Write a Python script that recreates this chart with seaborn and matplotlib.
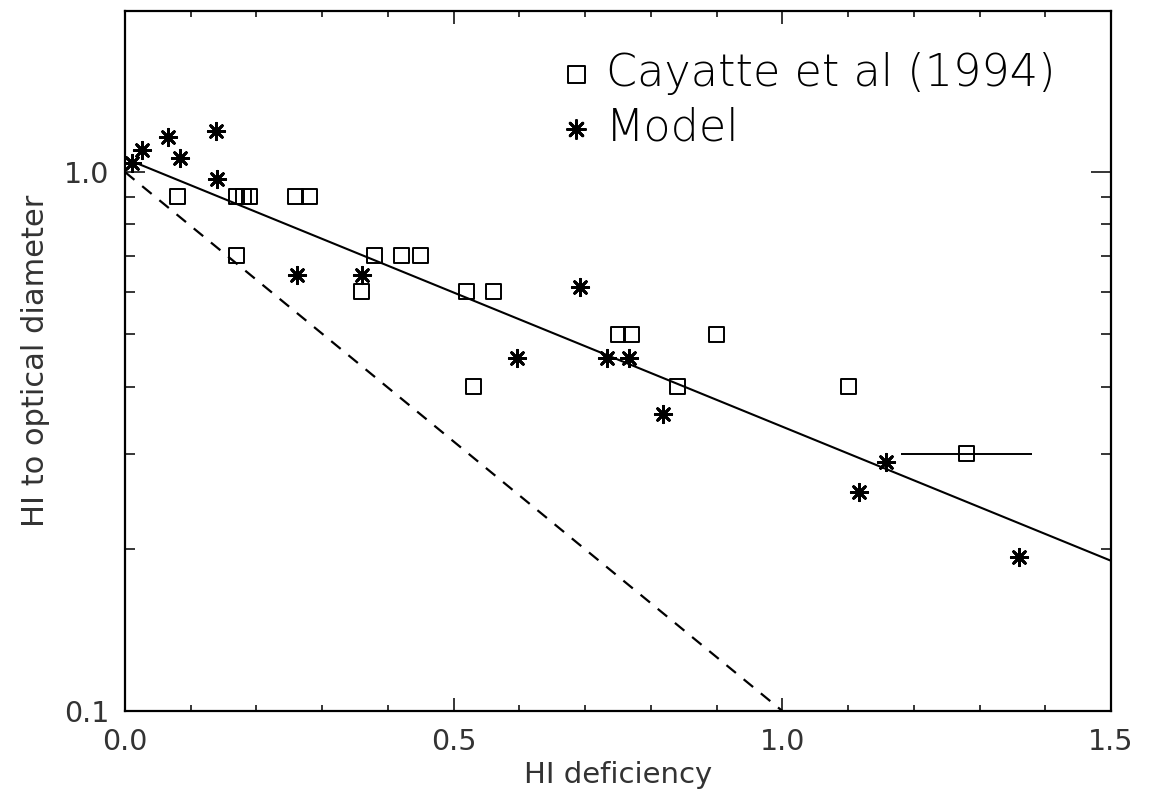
import numpy as np
import pandas as pd
import matplotlib
matplotlib.use("Agg")
import matplotlib.pyplot as plt
import matplotlib.ticker as mticker
import seaborn as sns

# ---- data ----
cay_x = [0.08, 0.17, 0.17, 0.18, 0.19, 0.26, 0.28, 0.36, 0.38, 0.42, 0.45,
         0.52, 0.56, 0.53, 0.75, 0.77, 0.84, 0.90, 1.10, 1.28]
cay_y = [0.90, 0.70, 0.90, 0.90, 0.90, 0.90, 0.90, 0.60, 0.70, 0.70, 0.70,
         0.60, 0.60, 0.40, 0.50, 0.50, 0.40, 0.50, 0.40, 0.30]
err_x = [1.28]
err_y = [0.30]
err_dx = [0.10]

model_x = [0.01, 0.026, 0.066, 0.084, 0.139, 0.14, 0.262, 0.36, 0.596, 0.692,
           0.733, 0.767, 0.818, 1.158, 1.117, 1.36]
model_y = [1.04, 1.10, 1.16, 1.06, 1.19, 0.97, 0.645, 0.645, 0.452, 0.612,
           0.452, 0.452, 0.355, 0.29, 0.255, 0.193]

fit_x = [0.0, 1.5]
fit_y = [1.06, 0.19]
dash_x = [0.0, 1.0]
dash_y = [1.0, 0.1]

x_major = [0.0, 0.5, 1.0, 1.5]
x_labels = ["0.0", "0.5", "1.0", "1.5"]
y_major = [0.1, 1.0]
y_labels = ["0.1", "1.0"]

legend_labels = ["Cayatte et al (1994)", "Model"]

# ---- style ----
sns.set_theme(style="ticks")
plt.rcParams["font.family"] = ["DejaVu Sans"]

fig = plt.figure(figsize=(11.52, 8.0), dpi=100)
ax = fig.add_axes([125 / 1152, 1 - 711 / 800, (1111 - 125) / 1152, (711 - 11) / 800])

cay_df = pd.DataFrame({"x": cay_x, "y": cay_y})
mod_df = pd.DataFrame({"x": model_x, "y": model_y})
fit_df = pd.DataFrame({"x": fit_x, "y": fit_y})
dash_df = pd.DataFrame({"x": dash_x, "y": dash_y})

sns.lineplot(data=fit_df, x="x", y="y", ax=ax, color="black", lw=1.5,
             sort=False, label="_nolegend_")
sns.lineplot(data=dash_df, x="x", y="y", ax=ax, color="black", lw=1.6,
             sort=False, label="_nolegend_", linestyle=(0, (5.5, 4.5)))

ax.errorbar(err_x, err_y, xerr=err_dx, fmt="none", ecolor="black",
            elinewidth=1.4, capsize=0)

sns.scatterplot(data=cay_df, x="x", y="y", ax=ax, marker="s", s=115,
                color="black", facecolor="none", edgecolor="black",
                linewidth=1.4, label=legend_labels[0], zorder=5)
ax.collections[-1].set_facecolor("none")

sns.scatterplot(data=mod_df, x="x", y="y", ax=ax, marker=(8, 2, 0), s=140,
                color="black", edgecolor="black", linewidth=2.0,
                label=legend_labels[1], zorder=6)

ax.set_yscale("log")
ax.set_xlim(0.0, 1.5)
ax.set_ylim(0.1, 1.99)

ax.xaxis.set_major_locator(mticker.FixedLocator(x_major))
ax.xaxis.set_major_formatter(mticker.FixedFormatter(x_labels))
ax.xaxis.set_minor_locator(mticker.MultipleLocator(0.1))
ax.yaxis.set_major_locator(mticker.FixedLocator(y_major))
ax.yaxis.set_major_formatter(mticker.FixedFormatter(y_labels))
ax.yaxis.set_minor_locator(mticker.LogLocator(base=10, subs=np.arange(2, 10)))
ax.yaxis.set_minor_formatter(mticker.NullFormatter())

txt_col = "#333333"
ax.tick_params(axis="both", which="both", direction="in", top=True, right=True,
               colors="black", labelcolor=txt_col, labelsize=20.5, width=1.1)
ax.tick_params(axis="x", which="major", length=9.5, pad=12)
ax.tick_params(axis="x", which="minor", length=4.5)
ax.tick_params(axis="y", which="major", length=14.5, pad=11)
ax.tick_params(axis="y", which="minor", length=7.2)

for sp in ax.spines.values():
    sp.set_linewidth(1.6)
    sp.set_color("black")

ax.set_xlabel("HI deficiency", fontsize=21, color=txt_col, labelpad=4)
ax.set_ylabel("HI to optical diameter", fontsize=22, color=txt_col, labelpad=10)

leg = ax.legend(loc="upper left", bbox_to_anchor=(563 / 1152, 1 - 52 / 800),
                bbox_transform=fig.transFigure, frameon=False,
                prop={"size": 32, "weight": "light"},
                handlelength=0.6, handletextpad=0.37, borderpad=0,
                borderaxespad=0, labelspacing=0.26, markerscale=1.1)
for t in leg.get_texts():
    t.set_color("black")

fig.savefig("out.png", dpi=100)
